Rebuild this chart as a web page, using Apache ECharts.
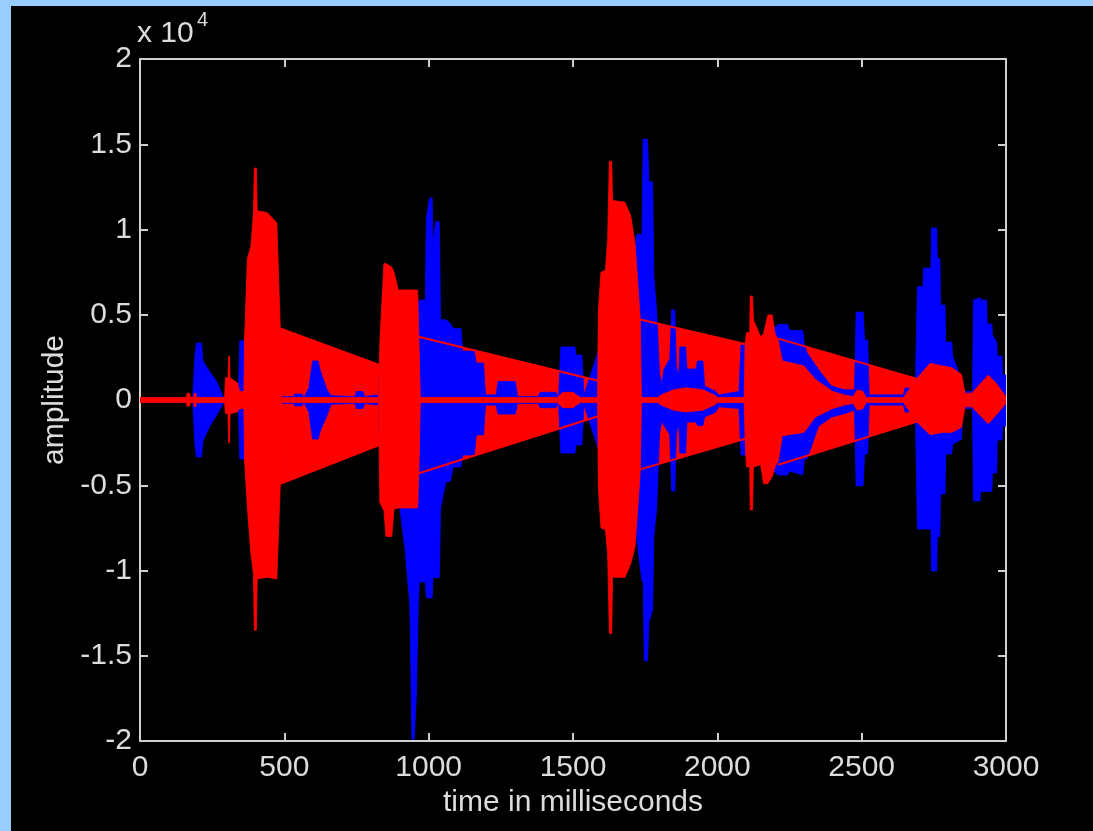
<!DOCTYPE html>
<html>
<head>
<meta charset="utf-8">
<script src="https://cdn.jsdelivr.net/npm/echarts@6/dist/echarts.min.js"></script>
<style>
  html, body { margin: 0; padding: 0; background: #99ccff; }
  #frame { position: absolute; left: 11px; top: 6px; width: 1082px; height: 825px; background: #000; }
  #chart { position: absolute; left: 0; top: 0; width: 1093px; height: 831px; }
</style>
</head>
<body>
<div id="frame"></div>
<div id="chart"></div>
<script>
// Original recording: per-time-bin envelope [time ms, max, min]
const blueEnvelope = [
  [0,0,0],[182,0,0],[185,900,-900],[190,2600,-2600],[196,3340,-3340],[213,3340,-3340],
  [218,2300,-2400],[240,1700,-1600],[265,1100,-900],[285,300,-300],[292,100,-100],[340,150,-150],
  [346,3470,-3460],[365,3470,-3460],[385,6000,-6000],[470,5000,-5000],[483,200,-200],[532,200,-200],
  [537,350,-350],[561,350,-350],[568,150,-150],[585,700,-700],[598,2290,-2290],[617,2290,-2290],
  [625,1700,-1800],[648,600,-900],[662,250,-250],[745,200,-200],[750,500,-500],[772,500,-500],
  [778,200,-200],[826,300,-300],[835,3500,-6000],[900,5000,-6330],[918,5000,-8740],[935,5000,-12080],
  [942,5000,-19900],[950,5000,-19900],[958,5300,-17000],[964,5600,-12000],[968,5870,-10670],
  [988,5870,-10670],[992,10670,-11610],[1003,11850,-11610],[1012,11850,-11610],[1015,9200,-10420],
  [1025,10500,-10420],[1037,10440,-10420],[1041,4700,-6330],[1060,4700,-4790],[1075,4500,-4790],
  [1085,4200,-3930],[1112,4190,-3930],[1118,2870,-3230],[1158,2870,-3230],[1165,2170,-2050],
  [1190,2170,-2050],[1197,300,-300],[1234,300,-300],[1240,1080,-820],[1300,1080,-820],[1308,200,-200],
  [1380,200,-200],[1386,450,-450],[1440,450,-450],[1450,200,-200],[1458,3110,-3110],[1507,3110,-3110],
  [1510,2640,-2640],[1531,2640,-2640],[1538,300,-300],[1590,3000,-3000],[1700,6000,-6000],
  [1720,9700,-8000],[1739,9700,-10650],[1743,15300,-10650],[1747,15300,-15300],[1758,15300,-15300],
  [1763,12800,-13000],[1776,12800,-12300],[1780,7300,-8000],[1790,5160,-6330],[1800,1500,-2000],
  [1808,1000,-1200],[1815,1800,-1500],[1835,2400,-2000],[1842,5280,-5340],[1853,5280,-5340],
  [1858,2000,-2000],[1867,1500,-1500],[1870,3110,-3110],[1890,3110,-3110],[1895,1820,-1290],
  [1925,1820,-1290],[1932,2290,-1500],[1950,2290,-1500],[1956,820,-1000],[1995,500,-700],
  [2005,300,-400],[2075,500,-500],[2082,3230,-3230],[2096,3230,-3230],[2150,3500,-3500],
  [2211,4430,-4400],[2244,4430,-4400],[2250,4070,-4170],[2296,4070,-4400],[2302,3230,-3460],
  [2311,2760,-3460],[2350,1800,-1550],[2395,820,-1000],[2440,600,-800],[2475,600,-600],
  [2481,5160,-5030],[2505,5160,-5030],[2510,3520,-3170],[2521,3520,-3170],[2526,300,-300],
  [2645,300,-300],[2650,700,-700],[2686,700,-700],[2693,6660,-7570],[2712,6660,-7570],
  [2714,7740,-7570],[2740,7740,-7570],[2742,10090,-10030],[2760,10090,-10030],[2762,8300,-8000],
  [2771,8300,-8000],[2773,5570,-5510],[2789,5570,-5510],[2791,3400,-3170],[2812,3400,-3170],
  [2815,2580,-2600],[2846,1170,-2300],[2850,500,-500],[2884,500,-500],[2887,5860,-5920],
  [2910,6000,-5920],[2912,5860,-5370],[2933,5860,-5370],[2935,4460,-5370],[2951,4460,-5370],
  [2953,3800,-4280],[2968,3400,-4280],[2970,2580,-2350],[2986,2580,-2350],[2988,1460,-1530],
  [3000,1460,-1530]
];

// Processed signal: per-time-bin envelope [time ms, max, min]
const redEnvelope = [
  [0,150,-150],[160,150,-150],[163,400,-350],[172,400,-350],[175,150,-150],[186,150,-150],
  [188,400,-400],[193,400,-400],[196,150,-150],[293,150,-150],[296,1300,-800],[305,1300,-800],
  [307,2580,-2520],[310,2580,-2520],[312,1300,-800],[338,1000,-700],[345,500,-500],[360,500,-500],
  [362,3460,-3460],[372,8300,-6300],[384,9000,-9000],[393,11000,-10200],[396,13600,-13500],
  [403,13600,-13500],[406,11100,-10500],[440,11000,-10400],[474,10400,-10500],[486,4190,-4910],
  [490,150,-150],[826,150,-150],[831,3460,-6000],[845,8000,-6500],[852,8000,-8000],[872,7800,-8000],
  [880,7500,-6400],[895,6450,-6330],[962,6450,-6330],[966,3710,-4300],[971,150,-150],
  [1445,150,-150],[1465,450,-450],[1500,450,-450],[1525,150,-150],[1585,150,-150],
  [1588,5300,-5200],[1597,7500,-7500],[1612,7600,-7600],[1620,9400,-9000],[1626,14000,-13700],
  [1634,14000,-13700],[1637,11700,-10400],[1680,11600,-10400],[1700,10800,-9600],[1715,9200,-8600],
  [1728,6000,-5500],[1733,4700,-4100],[1737,150,-150],[1795,150,-150],[1805,300,-300],
  [1850,600,-600],[1890,720,-700],[1950,600,-600],[1990,300,-300],[2000,150,-150],[2093,150,-150],
  [2096,3280,-2270],[2101,3950,-3930],[2112,3950,-3930],[2114,6100,-6450],[2122,6100,-6450],
  [2125,4700,-3930],[2150,3700,-3800],[2160,3900,-4910],[2175,4990,-4910],[2190,4990,-4500],
  [2200,3900,-3900],[2211,3500,-3600],[2225,2300,-2100],[2300,2000,-1900],[2340,1200,-1000],
  [2400,500,-500],[2440,300,-300],[2470,200,-200],[2485,600,-600],[2505,500,-500],[2515,150,-150],
  [2645,150,-150],[2690,1240,-1270],[2737,2150,-2040],[2780,2000,-1900],[2812,1900,-1900],
  [2846,1500,-1600],[2858,400,-400],[2881,400,-400],[2939,1460,-1400],[2965,1000,-900],
  [3000,200,-200]
];

// Linear decays between bursts: [t0, upper0, lower0, t1, upper1, lower1]
const redDecays = [
  [486, 4190, -4910, 829, 2050, -2640],
  [966, 3710, -4300, 1587, 1130, -955],
  [1733, 4720, -4070, 2096, 3280, -2270],
  [2211, 3600, -3800, 2692, 1240, -1270]
];

const xTicks = { min: 0, max: 3000, step: 500 };
const yTicks = { min: -20000, max: 20000, step: 5000, scale: 10000 };

const axisColor = '#d0d0d0';
const textColor = '#dcdcdc';
const font = '"Liberation Sans", Arial, sans-serif';

function envelopeSeries(name, rows, color, z) {
  return {
    name, type: 'custom', z, silent: true, clip: true,
    data: rows,
    encode: { x: 0, y: [1, 2] },
    renderItem: function (params, api) {
      if (params.dataIndex !== 0) return null;
      const upper = rows.map(r => api.coord([r[0], r[1]]));
      const lower = rows.map(r => api.coord([r[0], r[2]])).reverse();
      return {
        type: 'polygon',
        shape: { points: upper.concat(lower) },
        style: { fill: color, stroke: color, lineWidth: 0.8 }
      };
    }
  };
}

function decaySeries(mode, z) {
  return {
    type: 'custom', z, silent: true, clip: true,
    data: redDecays,
    encode: { x: [0, 3], y: [1, 2, 4, 5] },
    renderItem: function (params, api) {
      const a = api.coord([api.value(0), api.value(1)]);
      const b = api.coord([api.value(3), api.value(4)]);
      const c = api.coord([api.value(3), api.value(5)]);
      const d = api.coord([api.value(0), api.value(2)]);
      if (mode === 'fill') {
        return { type: 'polygon', shape: { points: [a, b, c, d] },
                 style: { fill: '#ff0000', stroke: '#ff0000', lineWidth: 0.8 } };
      }
      return { type: 'group', children: [
        { type: 'line', shape: { x1: a[0], y1: a[1], x2: b[0], y2: b[1] }, style: { stroke: '#ff0000', lineWidth: 2 } },
        { type: 'line', shape: { x1: d[0], y1: d[1], x2: c[0], y2: c[1] }, style: { stroke: '#ff0000', lineWidth: 2 } }
      ]};
    }
  };
}

function xAxisDef(pos, labels) {
  return {
    type: 'value', position: pos, min: xTicks.min, max: xTicks.max, interval: xTicks.step,
    axisLine: { show: true, onZero: false, lineStyle: { color: axisColor, width: 2 } },
    axisTick: { show: true, inside: true, length: 8, lineStyle: { color: axisColor, width: 2 } },
    axisLabel: { show: labels, color: textColor, fontSize: 30, fontFamily: font, margin: 12,
                 formatter: v => String(v) },
    splitLine: { show: false },
    name: labels ? 'time in milliseconds' : '',
    nameLocation: 'middle', nameGap: 46,
    nameTextStyle: { color: textColor, fontSize: 30, fontFamily: font }
  };
}

function yAxisDef(pos, labels) {
  return {
    type: 'value', position: pos, min: yTicks.min, max: yTicks.max, interval: yTicks.step,
    axisLine: { show: true, onZero: false, lineStyle: { color: axisColor, width: 2 } },
    axisTick: { show: true, inside: true, length: 8, lineStyle: { color: axisColor, width: 2 } },
    axisLabel: { show: labels, color: textColor, fontSize: 30, fontFamily: font, margin: 8,
                 formatter: v => String(v / yTicks.scale) },
    splitLine: { show: false },
    name: labels ? 'amplitude' : '',
    nameLocation: 'middle', nameGap: 70,
    nameTextStyle: { color: textColor, fontSize: 30, fontFamily: font }
  };
}

const chart = echarts.init(document.getElementById('chart'), null, { renderer: 'canvas' });
chart.setOption({
  backgroundColor: 'transparent',
  animation: false,
  grid: { left: 140, top: 59, right: 87, bottom: 90 },
  xAxis: [xAxisDef('bottom', true), xAxisDef('top', false)],
  yAxis: [yAxisDef('left', true), yAxisDef('right', false)],
  graphic: [
    { type: 'text', left: 137, top: 19, silent: true,
      style: { text: 'x 10', fill: textColor, font: '30px ' + font } },
    { type: 'text', left: 197, top: 10, silent: true,
      style: { text: '4', fill: textColor, font: '20px ' + font } }
  ],
  series: [
    decaySeries('fill', 1),
    envelopeSeries('original', blueEnvelope, '#0000ff', 2),
    envelopeSeries('processed', redEnvelope, '#ff0000', 3),
    decaySeries('edge', 4)
  ]
});
</script>
</body>
</html>
